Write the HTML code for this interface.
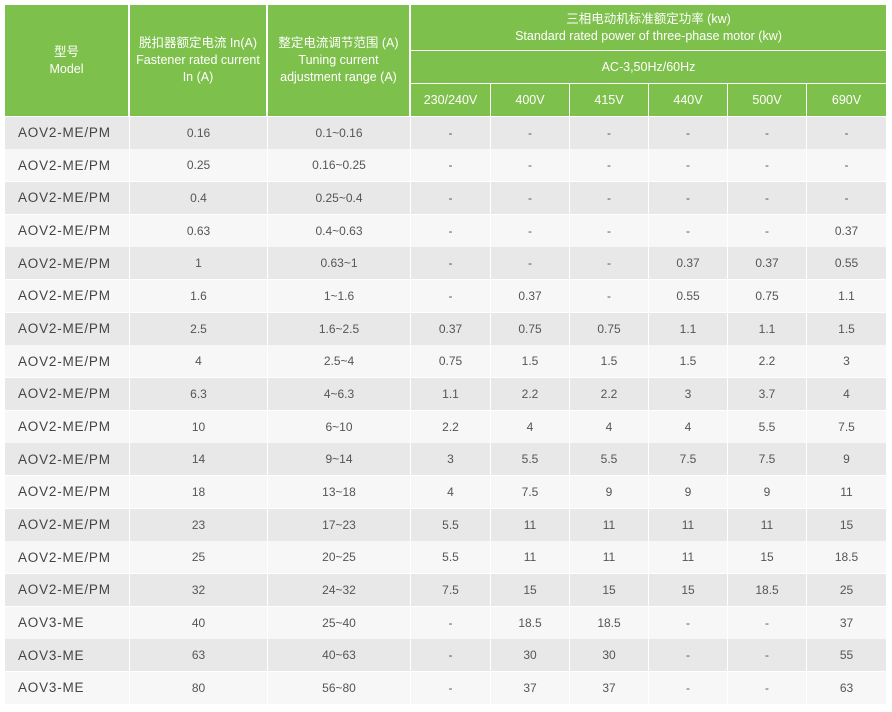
<!DOCTYPE html>
<html><head><meta charset="utf-8"><style>
body{margin:0;width:892px;height:712px;background:#fff;position:relative;overflow:hidden;font-family:"Liberation Sans","Noto Sans CJK SC",sans-serif;}
.c{position:absolute;box-sizing:border-box;display:flex;align-items:center;justify-content:center;text-align:center;color:#555;font-size:12px;}
.h{background:#7dc04b;color:#fff;line-height:17px;font-size:12.5px;}
.m{justify-content:flex-start;padding-left:13px;font-size:13.5px;letter-spacing:0.8px;color:#444;}
</style></head><body>
<div id="t"></div>
<script>
const models=["AOV2-ME/PM","AOV2-ME/PM","AOV2-ME/PM","AOV2-ME/PM","AOV2-ME/PM","AOV2-ME/PM","AOV2-ME/PM","AOV2-ME/PM","AOV2-ME/PM","AOV2-ME/PM","AOV2-ME/PM","AOV2-ME/PM","AOV2-ME/PM","AOV2-ME/PM","AOV2-ME/PM","AOV3-ME","AOV3-ME","AOV3-ME"];
const rated=["0.16","0.25","0.4","0.63","1","1.6","2.5","4","6.3","10","14","18","23","25","32","40","63","80"];
const ranges=["0.1~0.16","0.16~0.25","0.25~0.4","0.4~0.63","0.63~1","1~1.6","1.6~2.5","2.5~4","4~6.3","6~10","9~14","13~18","17~23","20~25","24~32","25~40","40~63","56~80"];
const voltages=["230/240V","400V","415V","440V","500V","690V"];
const p230=["-","-","-","-","-","-","0.37","0.75","1.1","2.2","3","4","5.5","5.5","7.5","-","-","-"];
const p400=["-","-","-","-","-","0.37","0.75","1.5","2.2","4","5.5","7.5","11","11","15","18.5","30","37"];
const p415=["-","-","-","-","-","-","0.75","1.5","2.2","4","5.5","9","11","11","15","18.5","30","37"];
const p440=["-","-","-","-","0.37","0.55","1.1","1.5","3","4","7.5","9","11","11","15","-","-","-"];
const p500=["-","-","-","-","0.37","0.75","1.1","2.2","3.7","5.5","7.5","9","11","15","18.5","-","-","-"];
const p690=["-","-","-","0.37","0.55","1.1","1.5","3","4","7.5","9","11","15","18.5","25","37","55","63"];
const xs=[5,129,267,410,490,569,648,727,806,886];
const t=document.getElementById('t');
function cell(x,y,w,h,html,cls,name){
  const d=document.createElement('div');
  d.className='c '+cls;
  d.style.left=x+'px';d.style.top=y+'px';d.style.width=w+'px';d.style.height=h+'px';
  d.innerHTML=html;
  
  
  t.appendChild(d);return d;
}
// header
cell(5,5,123,111,'型号<br>Model','h','header-model');
cell(130,5,136,111,'脱扣器额定电流 In(A)<br>Fastener rated current<br>In (A)','h','header-rated-current');
cell(268,5,141,111,'整定电流调节范围 (A)<br>Tuning current<br>adjustment range (A)','h','header-adjust-range');
cell(411,5,475,45,'三相电动机标准额定功率 (kw)<br>Standard rated power of three-phase motor (kw)','h','header-motor-power');
cell(411,51,475,32,'AC-3,50Hz/60Hz','h','header-ac3');
voltages.forEach((v,i)=>{
  cell(xs[i+3]+1,84,xs[i+4]-xs[i+3]-1,32,v,'h','header-voltage-'+i);
});
const rowH=32.67,top0=116.5;
const series=[p230,p400,p415,p440,p500,p690];
models.forEach((m,r)=>{
  const y=top0+r*rowH;
  const bg=r%2===0?'#e8e8e8':'#f7f7f7';
  const vals=[m,rated[r],ranges[r]].concat(series.map(s=>s[r]));
  vals.forEach((v,c)=>{
    const x=xs[c]+(c===0?0:1);
    const w=xs[c+1]-x;
    const d=cell(x,y,w,rowH-0.5,v,c===0?'m':'','row-'+r+'-col-'+c);
    d.style.background=bg;
  });
});
</script>
</body></html>
